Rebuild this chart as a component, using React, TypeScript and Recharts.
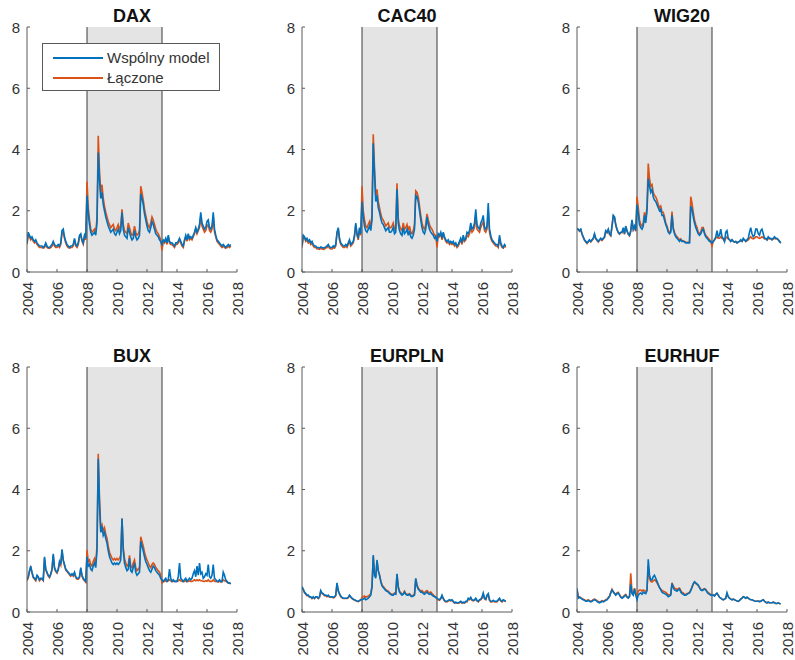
import { LineChart, Line, XAxis, YAxis, ReferenceArea, ReferenceLine } from "recharts"

// monthly observations, first one in January 2004
const START_YEAR = 2004
const MONTHS_PER_YEAR = 12

const X_TICKS = [2004, 2006, 2008, 2010, 2012, 2014, 2016, 2018]
const Y_TICKS = [0, 2, 4, 6, 8]
const CRISIS_START = 2008
const CRISIS_END = 2013

const SERIES_JOINT = "Wspólny model"
const SERIES_COMBINED = "Łączone"

// ---- DAX ----
const DAX_JOINT = [
  0.95, 1.30, 1.20, 1.10, 1.15, 1.05, 1.00, 1.05, 0.95, 0.90, 0.85, 0.85,
  0.85, 0.80, 0.85, 0.95, 0.85, 0.80, 0.80, 0.85, 0.90, 1.00, 0.90, 0.85,
  0.85, 0.90, 0.85, 0.95, 1.35, 1.40, 1.15, 1.00, 0.90, 0.85, 0.80, 0.85,
  0.85, 0.90, 1.10, 0.90, 0.85, 0.95, 1.20, 1.25, 1.05, 0.95, 1.20, 1.10,
  2.50, 1.90, 1.55, 1.30, 1.20, 1.25, 1.30, 1.20, 1.60, 3.90, 3.00, 2.40,
  2.60, 2.20, 2.00, 1.80, 1.65, 1.50, 1.40, 1.30, 1.35, 1.40, 1.25, 1.20,
  1.30, 1.40, 1.25, 1.35, 1.95, 1.40, 1.20, 1.15, 1.10, 1.45, 1.30, 1.15,
  1.05, 1.10, 1.35, 1.15, 1.05, 1.10, 1.20, 2.55, 2.40, 2.20, 1.90, 1.70,
  1.50, 1.35, 1.30, 1.45, 1.65, 1.55, 1.40, 1.25, 1.20, 1.15, 1.05, 1.00,
  0.90, 1.05, 1.00, 1.10, 0.95, 1.20, 1.00, 0.95, 0.95, 0.90, 0.85, 0.95,
  0.95, 1.00, 1.10, 1.00, 0.90, 0.85, 1.05, 1.20, 1.05, 1.25, 1.10, 1.15,
  1.10, 1.20, 1.30, 1.45, 1.30, 1.40, 1.55, 1.95, 1.60, 1.50, 1.40, 1.45,
  1.65, 1.70, 1.45, 1.40, 1.50, 1.95, 1.40, 1.20, 1.05, 1.00, 0.95, 0.90,
  0.85, 0.90, 0.85, 0.80, 0.85, 0.90, 0.85, 0.90,
]
const DAX_COMBINED = [
  0.90, 1.20, 1.15, 1.05, 1.10, 1.00, 0.95, 1.00, 0.90, 0.85, 0.80, 0.80,
  0.80, 0.78, 0.80, 0.90, 0.80, 0.78, 0.78, 0.80, 0.85, 0.95, 0.85, 0.80,
  0.80, 0.85, 0.80, 0.90, 1.25, 1.30, 1.10, 0.95, 0.85, 0.80, 0.78, 0.80,
  0.80, 0.85, 1.05, 0.85, 0.80, 0.90, 1.15, 1.20, 1.00, 0.90, 1.15, 1.05,
  2.95, 2.10, 1.70, 1.40, 1.30, 1.35, 1.40, 1.30, 1.75, 4.45, 3.30, 2.60,
  2.85, 2.40, 2.15, 1.95, 1.80, 1.65, 1.55, 1.45, 1.50, 1.55, 1.40, 1.35,
  1.45, 1.55, 1.40, 1.50, 2.05, 1.55, 1.35, 1.30, 1.25, 1.60, 1.45, 1.30,
  1.20, 1.25, 1.50, 1.30, 1.20, 1.25, 1.35, 2.80, 2.60, 2.35, 2.05, 1.85,
  1.65, 1.50, 1.45, 1.60, 1.80, 1.70, 1.55, 1.40, 1.30, 1.25, 1.15, 1.05,
  0.70, 1.00, 0.95, 1.05, 0.90, 1.15, 0.95, 0.90, 0.90, 0.85, 0.80, 0.90,
  0.90, 0.95, 1.05, 0.95, 0.85, 0.80, 1.00, 1.15, 1.00, 1.20, 1.05, 1.10,
  1.05, 1.15, 1.25, 1.40, 1.25, 1.35, 1.45, 1.80, 1.50, 1.40, 1.30, 1.35,
  1.50, 1.55, 1.35, 1.30, 1.40, 1.80, 1.30, 1.15, 1.00, 0.95, 0.90, 0.85,
  0.80, 0.85, 0.80, 0.78, 0.80, 0.85, 0.80, 0.85,
]

// ---- CAC40 ----
const CAC_JOINT = [
  0.85, 1.20, 1.15, 1.05, 1.10, 1.00, 1.05, 0.95, 1.00, 0.90, 0.85, 0.85,
  0.80, 0.80, 0.78, 0.82, 0.80, 0.78, 0.80, 0.82, 0.85, 0.90, 0.82, 0.80,
  0.80, 0.85, 0.82, 0.90, 1.30, 1.45, 1.10, 0.95, 0.90, 0.85, 0.85, 0.90,
  0.85, 0.95, 1.05, 0.90, 0.95, 1.00, 1.20, 1.60, 1.25, 1.10, 1.45, 1.25,
  2.30, 1.80, 1.50, 1.35, 1.30, 1.40, 1.50, 1.35, 1.70, 4.20, 3.20, 2.30,
  2.50, 2.10, 1.95, 1.75, 1.60, 1.55, 1.45, 1.35, 1.40, 1.45, 1.30, 1.30,
  1.35, 1.45, 1.25, 1.30, 2.70, 1.60, 1.35, 1.25, 1.20, 1.45, 1.25, 1.30,
  1.40, 1.20, 1.35, 1.15, 1.10, 1.20, 1.40, 2.50, 2.45, 2.30, 2.00, 1.70,
  1.45, 1.30, 1.25, 1.40, 1.80, 1.55, 1.40, 1.30, 1.25, 1.20, 1.10, 1.15,
  1.00, 1.25, 1.20, 1.30, 1.10, 1.30, 1.15, 1.05, 1.00, 1.05, 0.95, 1.00,
  0.95, 1.00, 0.90, 0.95, 0.85, 0.90, 1.00, 1.10, 0.95, 1.20, 1.05, 1.10,
  1.30, 1.25, 1.35, 1.60, 1.40, 1.45, 1.60, 2.05, 1.55, 1.45, 1.40, 1.60,
  1.70, 1.85, 1.45, 1.40, 1.50, 2.25, 1.40, 1.20, 1.05, 1.00, 0.95, 0.90,
  0.90, 0.85, 1.20, 0.95, 0.85, 0.80, 0.90, 0.85,
]
const CAC_COMBINED = [
  0.80, 1.15, 1.10, 1.00, 1.05, 0.95, 1.00, 0.90, 0.95, 0.85, 0.80, 0.80,
  0.75, 0.75, 0.74, 0.78, 0.75, 0.74, 0.75, 0.78, 0.80, 0.85, 0.78, 0.75,
  0.75, 0.80, 0.78, 0.85, 1.25, 1.40, 1.05, 0.90, 0.85, 0.80, 0.80, 0.85,
  0.80, 0.90, 1.00, 0.85, 0.90, 0.95, 1.15, 1.55, 1.20, 1.05, 1.40, 1.20,
  2.80, 2.00, 1.70, 1.50, 1.45, 1.55, 1.65, 1.50, 1.85, 4.50, 3.40, 2.50,
  2.70, 2.30, 2.10, 1.90, 1.75, 1.70, 1.60, 1.50, 1.55, 1.60, 1.45, 1.45,
  1.50, 1.60, 1.40, 1.45, 2.90, 1.75, 1.50, 1.40, 1.35, 1.60, 1.40, 1.45,
  1.55, 1.35, 1.50, 1.30, 1.25, 1.35, 1.55, 2.65, 2.60, 2.45, 2.15, 1.85,
  1.60, 1.45, 1.40, 1.55, 1.90, 1.70, 1.55, 1.45, 1.40, 1.30, 1.20, 1.20,
  0.80, 1.20, 1.15, 1.25, 1.05, 1.25, 1.10, 1.00, 0.95, 1.00, 0.90, 0.95,
  0.90, 0.95, 0.85, 0.90, 0.80, 0.85, 0.95, 1.05, 0.90, 1.10, 1.00, 1.05,
  1.20, 1.15, 1.25, 1.45, 1.30, 1.35, 1.45, 1.85, 1.40, 1.35, 1.30, 1.45,
  1.55, 1.65, 1.35, 1.30, 1.40, 1.95, 1.30, 1.10, 1.00, 0.95, 0.90, 0.85,
  0.85, 0.80, 1.10, 0.90, 0.80, 0.78, 0.85, 0.80,
]

// ---- WIG20 ----
const WIG_JOINT = [
  1.42, 1.40, 1.35, 1.40, 1.25, 1.15, 1.05, 1.00, 0.95, 1.00, 1.05, 1.00,
  1.05, 1.10, 1.25, 1.10, 1.05, 1.00, 1.05, 1.10, 1.05, 1.10, 1.15, 1.35,
  1.30, 1.40, 1.25, 1.20, 1.50, 1.85, 1.80, 1.55, 1.40, 1.30, 1.25, 1.30,
  1.30, 1.45, 1.25, 1.50, 1.35, 1.25, 1.20, 1.35, 1.70, 1.40, 1.50, 1.35,
  2.20, 1.90, 1.55, 1.45, 1.40, 1.50, 1.85, 1.60, 2.00, 3.05, 2.80, 2.60,
  2.70, 2.45, 2.35, 2.30, 2.20, 2.10, 2.00, 2.05, 1.85, 1.85, 1.70, 1.55,
  1.45, 1.30, 1.25, 1.30, 1.85, 1.40, 1.25, 1.15, 1.10, 1.05, 1.00, 1.05,
  1.00, 1.00, 0.98, 0.95, 0.95, 0.95, 0.95, 2.15, 2.05, 1.80, 1.60, 1.45,
  1.35, 1.25, 1.20, 1.25, 1.35, 1.40, 1.25, 1.15, 1.10, 1.05, 1.00, 1.00,
  0.95, 1.00, 1.05, 1.15, 1.35, 1.15, 1.20, 1.40, 1.15, 1.10, 1.00, 1.30,
  1.35, 1.10, 1.05, 1.00, 1.05, 1.00, 0.98, 1.00, 0.95, 0.98, 1.00, 1.05,
  1.00, 1.10, 1.05, 1.00, 1.05, 1.10, 1.30, 1.45, 1.25, 1.15, 1.20, 1.40,
  1.40, 1.25, 1.20, 1.35, 1.40, 1.25, 1.10, 1.10, 1.05, 1.15, 1.10, 1.10,
  1.05, 1.10, 1.15, 1.10, 1.10, 1.05, 1.00, 0.95,
]
const WIG_COMBINED = [
  1.40, 1.38, 1.33, 1.38, 1.23, 1.13, 1.03, 0.98, 0.93, 0.98, 1.03, 0.98,
  1.03, 1.08, 1.22, 1.08, 1.03, 0.98, 1.03, 1.08, 1.03, 1.08, 1.13, 1.32,
  1.28, 1.38, 1.23, 1.18, 1.48, 1.82, 1.78, 1.52, 1.38, 1.28, 1.23, 1.28,
  1.28, 1.42, 1.23, 1.48, 1.33, 1.23, 1.18, 1.33, 1.68, 1.38, 1.48, 1.33,
  2.46, 2.10, 1.70, 1.55, 1.50, 1.60, 1.95, 1.70, 2.15, 3.54, 3.05, 2.80,
  2.85, 2.60, 2.50, 2.45, 2.35, 2.20, 2.10, 2.15, 1.95, 1.95, 1.80, 1.60,
  1.50, 1.35, 1.30, 1.35, 1.97, 1.45, 1.30, 1.20, 1.15, 1.10, 1.05, 1.08,
  1.02, 1.02, 1.00, 0.97, 0.97, 0.97, 0.97, 2.46, 2.25, 1.95, 1.70, 1.55,
  1.45, 1.30, 1.25, 1.30, 1.45, 1.45, 1.30, 1.20, 1.15, 1.10, 1.05, 1.00,
  0.85, 1.00, 1.05, 1.10, 1.15, 1.10, 1.10, 1.15, 1.10, 1.08, 1.00, 1.10,
  1.15, 1.08, 1.05, 1.00, 1.05, 1.00, 0.98, 1.00, 0.95, 0.98, 1.00, 1.02,
  1.00, 1.05, 1.05, 1.00, 1.02, 1.05, 1.10, 1.15, 1.10, 1.08, 1.10, 1.15,
  1.15, 1.12, 1.10, 1.12, 1.15, 1.12, 1.08, 1.08, 1.05, 1.10, 1.08, 1.08,
  1.05, 1.08, 1.10, 1.08, 1.08, 1.05, 1.00, 0.95,
]

// ---- BUX ----
const BUX_JOINT = [
  1.05, 1.15, 1.35, 1.50, 1.30, 1.15, 1.10, 1.05, 1.20, 1.15, 1.05, 1.10,
  1.10, 1.05, 1.80, 1.40, 1.30, 1.20, 1.15, 1.25, 1.40, 1.90, 1.45, 1.35,
  1.30, 1.40, 1.65, 1.55, 2.05, 1.70, 1.55, 1.40, 1.35, 1.30, 1.25, 1.20,
  1.25, 1.20, 1.30, 1.15, 1.10, 1.10, 1.15, 1.45, 1.20, 1.10, 1.05, 1.00,
  1.80, 1.50, 1.55, 1.40, 1.35, 1.50, 1.60, 1.45, 2.00, 5.00, 3.50, 2.60,
  2.80, 2.50, 2.60, 2.40, 2.25, 2.00, 1.80, 1.70, 1.60, 1.55, 1.60, 1.55,
  1.60, 1.55, 1.60, 1.70, 3.05, 2.00, 1.60, 1.45, 1.35, 1.40, 1.75, 1.35,
  1.30, 1.45, 1.60, 1.30, 1.20, 1.25, 1.30, 2.30, 2.15, 2.00, 1.80, 1.65,
  1.55, 1.45, 1.35, 1.30, 1.40, 1.50, 1.45, 1.35, 1.30, 1.25, 1.20, 1.10,
  1.05, 1.00, 1.05, 1.10, 1.00, 1.05, 1.40, 1.10, 1.00, 1.05, 1.00, 1.00,
  1.00, 1.15, 1.60, 1.10, 1.05, 1.00, 1.05, 1.10, 1.00, 1.05, 1.10, 1.05,
  1.10, 1.25, 1.35, 1.15, 1.50, 1.20, 1.60, 1.25, 1.30, 1.10, 1.15, 1.25,
  1.20, 1.55, 1.15, 1.10, 1.20, 1.55, 1.10, 1.05, 1.00, 1.00, 1.05, 1.00,
  1.00, 1.30, 1.20, 1.05, 1.00, 0.95, 0.95, 0.92,
]
const BUX_COMBINED = [
  1.02, 1.12, 1.32, 1.45, 1.27, 1.12, 1.07, 1.02, 1.17, 1.12, 1.02, 1.07,
  1.07, 1.02, 1.75, 1.37, 1.27, 1.17, 1.12, 1.22, 1.37, 1.85, 1.42, 1.32,
  1.27, 1.37, 1.60, 1.52, 2.00, 1.67, 1.52, 1.37, 1.32, 1.27, 1.22, 1.17,
  1.22, 1.17, 1.27, 1.12, 1.07, 1.07, 1.12, 1.40, 1.17, 1.07, 1.02, 0.97,
  2.02, 1.65, 1.70, 1.55, 1.50, 1.65, 1.75, 1.60, 2.15, 5.17, 3.70, 2.75,
  2.85, 2.65, 2.75, 2.55, 2.40, 2.15, 1.95, 1.85, 1.75, 1.70, 1.75, 1.70,
  1.75, 1.70, 1.75, 1.85, 3.05, 2.10, 1.75, 1.60, 1.50, 1.55, 1.85, 1.50,
  1.45, 1.60, 1.70, 1.45, 1.35, 1.40, 1.45, 2.46, 2.30, 2.15, 1.95, 1.80,
  1.70, 1.60, 1.50, 1.45, 1.55, 1.60, 1.55, 1.45, 1.40, 1.35, 1.30, 1.20,
  0.95, 1.00, 1.00, 1.02, 1.00, 1.02, 1.05, 1.02, 1.00, 1.00, 1.00, 1.00,
  1.00, 1.02, 1.05, 1.02, 1.00, 1.00, 1.00, 1.02, 1.00, 1.00, 1.02, 1.00,
  1.00, 1.02, 1.05, 1.02, 1.05, 1.02, 1.05, 1.02, 1.02, 1.00, 1.00, 1.02,
  1.00, 1.05, 1.00, 1.00, 1.00, 1.05, 1.00, 1.00, 1.00, 0.98, 1.00, 0.98,
  0.98, 1.05, 1.02, 1.00, 0.98, 0.95, 0.95, 0.92,
]

// ---- EURPLN ----
const PLN_JOINT = [
  0.83, 0.75, 0.65, 0.60, 0.55, 0.55, 0.50, 0.50, 0.45, 0.50, 0.45, 0.50,
  0.50, 0.45, 0.50, 0.70, 0.62, 0.60, 0.55, 0.55, 0.52, 0.55, 0.50, 0.50,
  0.50, 0.48, 0.50, 0.55, 0.95, 0.70, 0.60, 0.52, 0.48, 0.45, 0.45, 0.45,
  0.45, 0.48, 0.55, 0.50, 0.45, 0.42, 0.40, 0.38, 0.36, 0.35, 0.38, 0.40,
  0.40, 0.42, 0.45, 0.40, 0.42, 0.45, 0.50, 0.55, 0.80, 1.86, 1.20, 1.10,
  1.70, 1.35, 1.20, 1.00, 0.85, 0.80, 0.75, 0.70, 0.68, 0.65, 0.60, 0.58,
  0.55, 0.55, 0.60, 0.58, 1.25, 0.80, 0.65, 0.60, 0.55, 0.58, 0.65, 0.58,
  0.55, 0.55, 0.58, 0.52, 0.50, 0.52, 0.55, 1.10, 0.85, 0.75, 0.70, 0.65,
  0.65, 0.60, 0.58, 0.62, 0.65, 0.60, 0.58, 0.60, 0.55, 0.52, 0.50, 0.48,
  0.45, 0.42, 0.40, 0.45, 0.55, 0.45, 0.38, 0.35, 0.35, 0.38, 0.40, 0.38,
  0.40, 0.35, 0.30, 0.32, 0.30, 0.30, 0.32, 0.35, 0.30, 0.32, 0.30, 0.35,
  0.35, 0.45, 0.42, 0.48, 0.40, 0.38, 0.40, 0.45, 0.38, 0.35, 0.40, 0.42,
  0.48, 0.62, 0.45, 0.42, 0.55, 0.60, 0.40, 0.35, 0.35, 0.38, 0.35, 0.35,
  0.35, 0.40, 0.45, 0.38, 0.35, 0.40, 0.38, 0.35,
]
const PLN_COMBINED = [
  0.80, 0.72, 0.63, 0.58, 0.53, 0.53, 0.48, 0.48, 0.44, 0.48, 0.44, 0.48,
  0.48, 0.44, 0.48, 0.68, 0.60, 0.58, 0.53, 0.53, 0.50, 0.53, 0.48, 0.48,
  0.48, 0.46, 0.48, 0.53, 0.92, 0.68, 0.58, 0.50, 0.46, 0.44, 0.44, 0.44,
  0.44, 0.46, 0.53, 0.48, 0.44, 0.41, 0.39, 0.37, 0.35, 0.34, 0.37, 0.39,
  0.48, 0.50, 0.52, 0.48, 0.50, 0.52, 0.55, 0.60, 0.85, 1.80, 1.25, 1.15,
  1.65, 1.35, 1.22, 1.02, 0.88, 0.83, 0.78, 0.73, 0.70, 0.68, 0.63, 0.60,
  0.58, 0.58, 0.62, 0.60, 1.22, 0.83, 0.68, 0.63, 0.58, 0.60, 0.68, 0.60,
  0.58, 0.58, 0.60, 0.55, 0.53, 0.55, 0.58, 1.08, 0.88, 0.78, 0.73, 0.68,
  0.70, 0.65, 0.63, 0.67, 0.70, 0.65, 0.63, 0.65, 0.60, 0.56, 0.52, 0.48,
  0.42, 0.40, 0.38, 0.43, 0.52, 0.43, 0.36, 0.33, 0.33, 0.36, 0.38, 0.36,
  0.38, 0.33, 0.29, 0.30, 0.29, 0.29, 0.30, 0.33, 0.29, 0.30, 0.29, 0.33,
  0.33, 0.42, 0.40, 0.45, 0.38, 0.36, 0.38, 0.42, 0.36, 0.33, 0.38, 0.40,
  0.45, 0.58, 0.43, 0.40, 0.52, 0.56, 0.38, 0.33, 0.33, 0.36, 0.33, 0.33,
  0.33, 0.38, 0.42, 0.36, 0.33, 0.38, 0.36, 0.33,
]

// ---- EURHUF ----
const HUF_JOINT = [
  0.77, 0.45, 0.48, 0.45, 0.42, 0.40, 0.38, 0.35, 0.35, 0.38, 0.35, 0.33,
  0.35, 0.38, 0.40, 0.38, 0.35, 0.32, 0.30, 0.32, 0.35, 0.33, 0.35, 0.38,
  0.40, 0.45, 0.50, 0.62, 0.72, 0.65, 0.60, 0.55, 0.60, 0.62, 0.55, 0.48,
  0.45, 0.48, 0.52, 0.55, 0.48, 0.45, 0.50, 0.90, 0.60, 0.55, 0.75, 0.55,
  0.40, 0.55, 0.60, 0.62, 0.58, 0.65, 0.62, 0.60, 0.70, 1.72, 1.20, 1.05,
  1.05, 1.15, 1.20, 1.10, 1.00, 0.90, 0.80, 0.72, 0.65, 0.62, 0.60, 0.58,
  0.55, 0.50, 0.52, 0.55, 0.93, 0.80, 0.72, 0.70, 0.68, 0.72, 0.75, 0.65,
  0.60, 0.58, 0.55, 0.55, 0.58, 0.60, 0.62, 0.70, 0.80, 0.92, 0.99, 0.95,
  0.92, 0.88, 0.80, 0.72, 0.70, 0.72, 0.75, 0.72, 0.65, 0.60, 0.58, 0.55,
  0.55, 0.55, 0.52, 0.58, 0.62, 0.55, 0.48, 0.45, 0.42, 0.40, 0.42, 0.45,
  0.63, 0.50, 0.45, 0.42, 0.40, 0.42, 0.40, 0.38, 0.36, 0.35, 0.38, 0.42,
  0.45, 0.50, 0.48, 0.45, 0.48, 0.45, 0.42, 0.40, 0.40, 0.38, 0.36, 0.35,
  0.35, 0.36, 0.34, 0.35, 0.38, 0.40, 0.35, 0.32, 0.30, 0.32, 0.30, 0.30,
  0.30, 0.32, 0.30, 0.28, 0.28, 0.30, 0.28, 0.27,
]
const HUF_COMBINED = [
  0.72, 0.50, 0.50, 0.47, 0.44, 0.42, 0.40, 0.37, 0.37, 0.40, 0.37, 0.35,
  0.37, 0.40, 0.42, 0.40, 0.37, 0.34, 0.32, 0.34, 0.37, 0.35, 0.37, 0.40,
  0.42, 0.47, 0.52, 0.64, 0.74, 0.67, 0.62, 0.57, 0.62, 0.64, 0.57, 0.50,
  0.47, 0.50, 0.54, 0.57, 0.50, 0.47, 0.52, 1.26, 0.65, 0.58, 0.78, 0.60,
  0.55, 0.68, 0.72, 0.72, 0.68, 0.72, 0.70, 0.66, 0.72, 1.50, 1.10, 1.00,
  0.98, 1.02, 1.05, 1.02, 0.95, 0.88, 0.80, 0.75, 0.70, 0.68, 0.66, 0.64,
  0.60, 0.56, 0.56, 0.58, 0.95, 0.85, 0.78, 0.76, 0.74, 0.76, 0.78, 0.70,
  0.64, 0.62, 0.58, 0.58, 0.60, 0.62, 0.64, 0.72, 0.82, 0.92, 0.97, 0.93,
  0.90, 0.86, 0.80, 0.74, 0.72, 0.74, 0.76, 0.74, 0.68, 0.63, 0.60, 0.58,
  0.56, 0.56, 0.53, 0.58, 0.60, 0.55, 0.48, 0.45, 0.42, 0.40, 0.42, 0.45,
  0.60, 0.50, 0.45, 0.42, 0.40, 0.42, 0.40, 0.38, 0.36, 0.35, 0.38, 0.42,
  0.45, 0.50, 0.48, 0.45, 0.48, 0.45, 0.42, 0.40, 0.40, 0.38, 0.36, 0.35,
  0.35, 0.36, 0.34, 0.35, 0.38, 0.40, 0.35, 0.32, 0.30, 0.32, 0.30, 0.30,
  0.30, 0.32, 0.30, 0.28, 0.28, 0.30, 0.28, 0.27,
]

const PANELS = [
  { title: "DAX", joint: DAX_JOINT, combined: DAX_COMBINED },
  { title: "CAC40", joint: CAC_JOINT, combined: CAC_COMBINED },
  { title: "WIG20", joint: WIG_JOINT, combined: WIG_COMBINED },
  { title: "BUX", joint: BUX_JOINT, combined: BUX_COMBINED },
  { title: "EURPLN", joint: PLN_JOINT, combined: PLN_COMBINED },
  { title: "EURHUF", joint: HUF_JOINT, combined: HUF_COMBINED },
]

const BLUE = "#0072BD"
const ORANGE = "#D95319"
const AXIS = "#5a5a5a"
const EDGE = "#3a3a3a"
const TEXT = "#333333"
const FONT = "'Liberation Sans', Arial, Helvetica, sans-serif"

const CHART_W = 250
const CHART_H = 330
const COL_STEP = 275
const ROW_STEP = 340
const TICK_LEN = 3

const buildRows = (joint: number[], combined: number[]) =>
  joint.map((v, i) => ({ t: START_YEAR + i / MONTHS_PER_YEAR, joint: v, combined: combined[i] }))

const BottomTick = (props: any) => {
  const { x, y, payload } = props
  return (
    <g>
      <line x1={x} x2={x} y1={y} y2={y - TICK_LEN} stroke={AXIS} />
      <text
        x={x}
        y={y + 10}
        transform={`rotate(-90, ${x}, ${y + 10})`}
        textAnchor="end"
        dominantBaseline="central"
        fontSize={15}
        fontFamily={FONT}
        fill={TEXT}
      >
        {payload.value}
      </text>
    </g>
  )
}

const TopTick = (props: any) => {
  const { x, y } = props
  return <line x1={x} x2={x} y1={y} y2={y + TICK_LEN} stroke={AXIS} />
}

const LeftTick = (props: any) => {
  const { x, y, payload } = props
  return (
    <g>
      <line x1={x} x2={x + TICK_LEN} y1={y} y2={y} stroke={AXIS} />
      <text x={x - 7} y={y} textAnchor="end" dominantBaseline="central" fontSize={15} fontFamily={FONT} fill={TEXT}>
        {payload.value}
      </text>
    </g>
  )
}

const RightTick = (props: any) => {
  const { x, y } = props
  return <line x1={x} x2={x - TICK_LEN} y1={y} y2={y} stroke={AXIS} />
}

const LegendBox = () => (
  <div
    style={{
      position: "absolute",
      left: 42,
      top: 43,
      width: 176,
      height: 46,
      border: `1px solid ${AXIS}`,
      background: "#fff",
      fontFamily: FONT,
      fontSize: 15,
      color: TEXT,
    }}
  >
    {[
      { name: SERIES_JOINT, color: BLUE },
      { name: SERIES_COMBINED, color: ORANGE },
    ].map((item, i) => (
      <div key={item.name} style={{ position: "absolute", left: 0, top: 4 + i * 20, height: 20, width: "100%" }}>
        <div style={{ position: "absolute", left: 10, top: 9, width: 50, height: 2, background: item.color }} />
        <div style={{ position: "absolute", left: 64, top: 0, lineHeight: "20px", whiteSpace: "nowrap" }}>{item.name}</div>
      </div>
    ))}
  </div>
)

const Panel = ({ title, joint, combined, showLegend }: any) => {
  const rows = buildRows(joint, combined)
  return (
    <div style={{ position: "relative", width: CHART_W, height: CHART_H }}>
      <LineChart width={CHART_W} height={CHART_H} data={rows} margin={{ top: 27, right: 13, bottom: 13, left: 0 }}>
        <ReferenceArea x1={CRISIS_START} x2={CRISIS_END} fill="#e4e4e4" fillOpacity={1} stroke="none" />
        <ReferenceLine x={CRISIS_START} stroke={EDGE} strokeWidth={1} />
        <ReferenceLine x={CRISIS_END} stroke={EDGE} strokeWidth={1} />
        <XAxis
          dataKey="t"
          type="number"
          domain={[2004, 2018]}
          ticks={X_TICKS}
          interval={0}
          allowDataOverflow
          height={45}
          tickSize={0}
          tickMargin={0}
          axisLine={{ stroke: AXIS }}
          tickLine={false}
          tick={BottomTick}
        />
        <XAxis
          xAxisId="top"
          orientation="top"
          dataKey="t"
          type="number"
          domain={[2004, 2018]}
          ticks={X_TICKS}
          interval={0}
          allowDataOverflow
          height={0}
          tickSize={0}
          tickMargin={0}
          axisLine={{ stroke: AXIS }}
          tickLine={false}
          tick={TopTick}
        />
        <YAxis
          type="number"
          domain={[0, 8]}
          ticks={Y_TICKS}
          interval={0}
          allowDataOverflow
          width={27}
          tickSize={0}
          tickMargin={0}
          axisLine={{ stroke: AXIS }}
          tickLine={false}
          tick={LeftTick}
        />
        <YAxis
          yAxisId="right"
          orientation="right"
          type="number"
          domain={[0, 8]}
          ticks={Y_TICKS}
          interval={0}
          allowDataOverflow
          width={0}
          tickSize={0}
          tickMargin={0}
          axisLine={{ stroke: AXIS }}
          tickLine={false}
          tick={RightTick}
        />
        <Line
          type="linear"
          dataKey="combined"
          name={SERIES_COMBINED}
          stroke={ORANGE}
          strokeWidth={1.6}
          dot={false}
          isAnimationActive={false}
        />
        <Line
          type="linear"
          dataKey="joint"
          name={SERIES_JOINT}
          stroke={BLUE}
          strokeWidth={1.6}
          dot={false}
          isAnimationActive={false}
        />
      </LineChart>
      <div
        style={{
          position: "absolute",
          left: 27,
          top: 7,
          width: 210,
          textAlign: "center",
          fontFamily: FONT,
          fontWeight: "bold",
          fontSize: 18,
          lineHeight: "18px",
          color: "#111",
        }}
      >
        {title}
      </div>
      {showLegend && <LegendBox />}
    </div>
  )
}

export default function App() {
  return (
    <div
      style={{
        position: "absolute",
        left: 0,
        top: 0,
        width: 795,
        height: 660,
        overflow: "hidden",
        background: "#fff",
      }}
    >
      {PANELS.map((p, i) => (
        <div
          key={p.title}
          style={{ position: "absolute", left: (i % 3) * COL_STEP, top: Math.floor(i / 3) * ROW_STEP }}
        >
          <Panel title={p.title} joint={p.joint} combined={p.combined} showLegend={i === 0} />
        </div>
      ))}
    </div>
  )
}
